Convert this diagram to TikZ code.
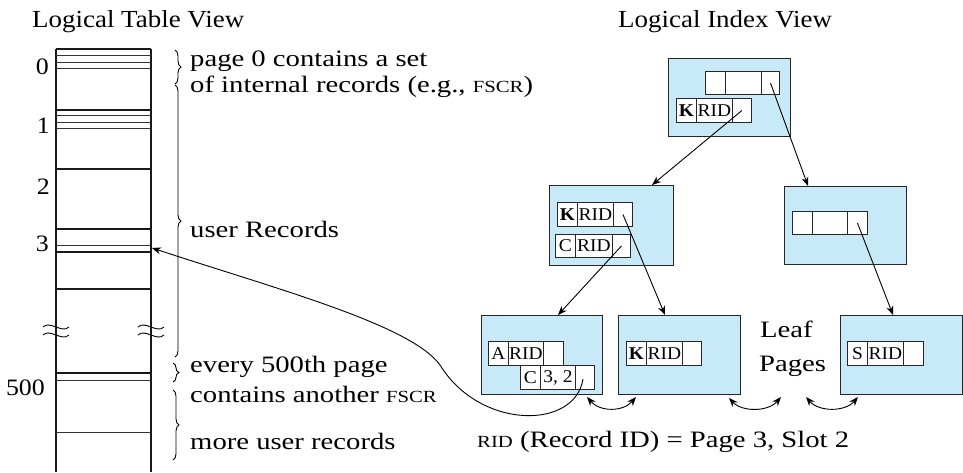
\documentclass[tikz,border=0pt]{standalone}
\usepackage{fontspec}
\setmainfont{Liberation Serif}[FakeStretch=1.22]
\newfontfamily\ttlfont{Liberation Serif}[FakeStretch=1.1]
\newfontfamily\cellfont{Liberation Serif}[FakeStretch=1.08]
\usetikzlibrary{arrows.meta,decorations.pathreplacing}
\definecolor{pblue}{RGB}{200,234,248}
\newcommand\mysc[1]{{\fontsize{17}{17}\selectfont #1}}
\begin{document}
\begin{tikzpicture}[x=1pt,y=-1pt,
 box/.style={draw=black!85, fill=pblue, line width=1.3pt, anchor=north west, inner sep=0pt, minimum width=122pt, minimum height=79pt},
 cell/.style={draw=black!85, fill=white, line width=0.9pt, anchor=north west, inner sep=0pt, minimum height=24pt, font=\cellfont\fontsize{18}{18}\selectfont},
 arr/.style={line width=0.9pt, -{Stealth[length=9pt,width=7pt]}},
 darr/.style={line width=0.9pt, {Stealth[length=9pt,width=7pt]}-{Stealth[length=9pt,width=7pt]}},
 txt/.style={anchor=base west, inner sep=0pt, font=\fontsize{23.5}{26}\selectfont},
 ttl/.style={anchor=base west, inner sep=0pt, font=\ttlfont\fontsize{24.5}{26}\selectfont},
 num/.style={anchor=base east, inner sep=0pt, font=\ttlfont\fontsize{23.5}{26}\selectfont},
 brc/.style={decorate, decoration={brace, amplitude=6pt}, line width=0.9pt},
 thk/.style={line width=1.5pt, draw=black!90},
 thn/.style={line width=0.8pt, draw=black!80}]
\useasboundingbox (0,0) rectangle (963,472);

% ---------------- titles
\node[ttl] (tt1) at (32,27) {Logical Table View};
\node[ttl] (tt2) at (618,27) {Logical Index View};

% ---------------- table column
\draw[thk] (56,49) -- (56,472);
\draw[thk] (151,49) -- (151,472);
\draw[thk] (56,49) -- (151,49);
\foreach \y in {55,62,68,115,122,128,245,380,432} \draw[thn] (56,\y) -- (151,\y);
\foreach \y in {110,169,229,252,289,373} \draw[thk] (56,\y) -- (151,\y);
% break marks
\foreach \x in {56,151}{
  \draw[line width=0.9pt] (\x-13,327) .. controls (\x-6,320) and (\x+6,334) .. (\x+13,327);
  \draw[line width=0.9pt] (\x-13,335) .. controls (\x-6,328) and (\x+6,342) .. (\x+13,335);
}
\node[num] (n0) at (49,74) {0};
\node[num] (n1) at (50,133) {1};
\node[num] (n2) at (50,194) {2};
\node[num] (n3) at (49,251) {3};
\node[num] (n500) at (45,395) {500};
\coordinate (t3) at (152,248);

% ---------------- braces
\draw[brc] (175,50) -- (175,84);
\draw[brc] (175,85) -- (175,357);
\draw[brc] (173,363) -- (173,382);
\draw[brc] (173,390) -- (173,460);

\node[txt] (l1) at (190,66) {page 0 contains a set};
\node[txt] (l2) at (190,92) {of internal records (e.g., \mysc{FSCR})};
\node[txt] (l3) at (190,237) {user Records};
\node[txt] (l4) at (190,372) {every 500th page};
\node[txt] (l5) at (190,402) {contains another \mysc{FSCR}};
\node[txt] (l6) at (190,449) {more user records};

% ---------------- index pages
\node[box, minimum width=122pt, minimum height=78pt] (root) at (668,58) {};
\node[box, minimum width=124pt, minimum height=80pt] (midL) at (549,185) {};
\node[box, minimum width=122pt, minimum height=78pt] (midR) at (784,186) {};
\node[box, minimum width=121pt] (leafA) at (481,315) {};
\node[box] (leafK) at (618,315) {};
\node[box] (leafS) at (840,315) {};

% root cells
\node[cell, minimum width=20pt, minimum height=23pt] (r1) at (705,71) {};
\node[cell, minimum width=36pt, minimum height=23pt] (r2) at (725,71) {};
\node[cell, minimum width=18pt, minimum height=23pt] (r3) at (761,71) {};
\node[cell, minimum width=20pt] (r4) at (676,98) {\textbf{K}};
\node[cell, minimum width=36pt] (r5) at (696,98) {RID};
\node[cell, minimum width=19pt] (r6) at (732,98) {};

% mid left cells
\node[cell, minimum width=20pt] (m1) at (557,202) {\textbf{K}};
\node[cell, minimum width=36pt] (m2) at (577,202) {RID};
\node[cell, minimum width=19pt] (m3) at (613,202) {};
\node[cell, minimum width=20pt, minimum height=23pt] (m4) at (555,234) {C};
\node[cell, minimum width=37pt, minimum height=23pt] (m5) at (575,234) {RID};
\node[cell, minimum width=18pt, minimum height=23pt] (m6) at (612,234) {};

% mid right cells
\node[cell, minimum width=20pt, minimum height=23pt] (q1) at (792,211) {};
\node[cell, minimum width=35pt, minimum height=23pt] (q2) at (812,211) {};
\node[cell, minimum width=20pt, minimum height=23pt] (q3) at (847,211) {};

% leaf A cells
\node[cell, minimum width=20pt] (a1) at (488,341) {A};
\node[cell, minimum width=35pt] (a2) at (508,341) {RID};
\node[cell, minimum width=20pt] (a3) at (543,341) {};
\node[cell, minimum width=20pt] (a4) at (520,365) {C};
\node[cell, minimum width=35pt] (a5) at (540,365) {3, 2};
\node[cell, minimum width=19pt] (a6) at (575,365) {};

% leaf K cells
\node[cell, minimum width=20pt] (k1) at (626,341) {\textbf{K}};
\node[cell, minimum width=36pt] (k2) at (646,341) {RID};
\node[cell, minimum width=19pt] (k3) at (682,341) {};

% leaf S cells
\node[cell, minimum width=20pt] (s1) at (847,341) {S};
\node[cell, minimum width=36pt] (s2) at (867,341) {RID};
\node[cell, minimum width=20pt] (s3) at (903,341) {};

\node[txt] (lf1) at (760,337) {Leaf};
\node[txt] (lf2) at (759,371) {Pages};
\node[txt] (rid) at (477,447) {\mysc{RID} (Record ID) = Page 3, Slot 2};

% ---------------- tree arrows
\coordinate (tML) at (652,185);
\coordinate (tMR) at (808,186);
\coordinate (tLK) at (665,315);
\coordinate (tLA) at (558,315);
\coordinate (tLS) at (893,315);
\draw[arr] (r6.center) -- (tML);
\draw[arr] (r3.center) -- (tMR);
\draw[arr] (m3.center) -- (tLK);
\draw[arr] (m6.center) -- (tLA);
\draw[arr] (q3.center) -- (tLS);

% ---------------- leaf sibling arrows
\coordinate (d1a) at (587,397); \coordinate (d1b) at (636,397);
\coordinate (d2a) at (729,398); \coordinate (d2b) at (781,397);
\coordinate (d3a) at (806,397); \coordinate (d3b) at (858,397);
\draw[darr] (d1a) .. controls (600,412) and (623,412) .. (d1b);
\draw[darr] (d2a) .. controls (742,412) and (768,412) .. (d2b);
\draw[darr] (d3a) .. controls (819,412) and (845,412) .. (d3b);

% ---------------- RID pointer
\coordinate (c32) at (583,379);
\draw[arr] (c32) .. controls (575,430) and (480,430) .. (440,365)
  .. controls (411,325) and (280,290) .. (t3);
\end{tikzpicture}
\end{document}
